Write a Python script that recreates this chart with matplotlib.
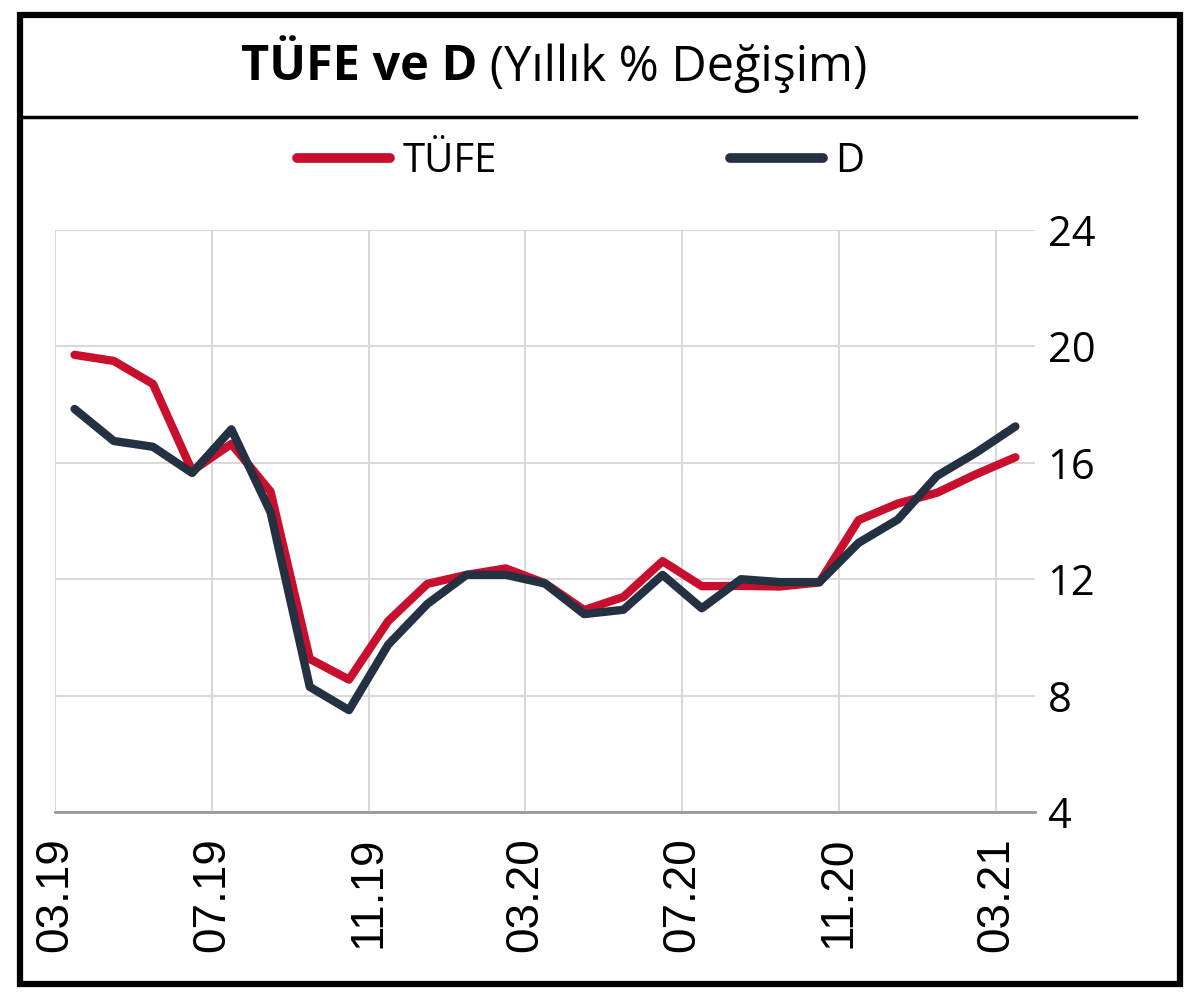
"""
TÜFE ve D - yillik % degisim (03.19 - 03.21).
"""
import matplotlib
matplotlib.use("Agg")
import matplotlib.pyplot as plt
from matplotlib.lines import Line2D
from matplotlib.patches import Rectangle

# datos mensuales 03.19 .. 03.21
meses = ["03.19", "04.19", "05.19", "06.19", "07.19", "08.19", "09.19", "10.19",
         "11.19", "12.19", "01.20", "02.20", "03.20", "04.20", "05.20", "06.20",
         "07.20", "08.20", "09.20", "10.20", "11.20", "12.20", "01.21", "02.21",
         "03.21"]
tufe = [19.71, 19.50, 18.71, 15.72, 16.65, 15.01, 9.26, 8.55, 10.56, 11.84,
        12.15, 12.37, 11.86, 10.94, 11.39, 12.62, 11.76, 11.77, 11.75, 11.89,
        14.03, 14.60, 14.97, 15.61, 16.19]
d = [17.85, 16.75, 16.55, 15.65, 17.15, 14.3, 8.3, 7.5, 9.75, 11.15,
     12.15, 12.15, 11.85, 10.8, 10.95, 12.15, 11.0, 12.0, 11.9, 11.9,
     13.25, 14.05, 15.55, 16.35, 17.25]
etiquetas = meses[::4]
yticks = [4, 8, 12, 16, 20, 24]

ROJO = "#C8102E"
AZUL = "#243142"

fig = plt.figure(figsize=(12, 10), dpi=100)
ax = fig.add_axes([0.0458, 0.188, 0.8167, 0.582])

xs = [i + 0.5 for i in range(len(meses))]
ax.plot(xs, tufe, color=ROJO, lw=6, solid_capstyle="round", solid_joinstyle="round",
        label="TÜFE", zorder=3)
ax.plot(xs, d, color=AZUL, lw=6, solid_capstyle="round", solid_joinstyle="round",
        label="D", zorder=4)

ax.set_xlim(0, 25)
ax.set_ylim(4, 24)
ax.set_xticks(range(0, 25, 4))
ax.set_xticklabels(etiquetas, rotation=90, fontsize=33, family="Liberation Sans",
                   va="top")
ax.set_yticks(yticks)
ax.set_yticklabels([str(v) for v in yticks], fontsize=30, family="Open Sans")
ax.yaxis.tick_right()
ax.tick_params(axis="both", length=0)
ax.tick_params(axis="x", pad=18)
ax.tick_params(axis="y", pad=9)
ax.grid(True, color="#d9d9d9", lw=1.5)
for s in ["top", "left", "right"]:
    ax.spines[s].set_visible(False)
ax.spines["bottom"].set_color("#999999")
ax.spines["bottom"].set_linewidth(2)

leg = fig.legend(loc="center", bbox_to_anchor=(0.484, 0.838), ncol=2, frameon=False,
                 prop={"family": "Open Sans", "size": 29}, handlelength=2.3,
                 handletextpad=0.3, columnspacing=5.8)
for h in leg.get_lines():
    h.set_linewidth(7)
    h.set_solid_capstyle("round")

# titulo en dos partes (negrita + normal)
fig.canvas.draw()
r = fig.canvas.get_renderer()
t1 = fig.text(0, 0.932, "TÜFE ve D", fontsize=35, fontweight="bold",
              family="Open Sans", va="center", ha="left")
t2 = fig.text(0, 0.932, " (Yıllık % Değişim)", fontsize=35,
              family="Open Sans", va="center", ha="left")
w1 = t1.get_window_extent(r).width / fig.bbox.width
w2 = t2.get_window_extent(r).width / fig.bbox.width
x0 = 0.462 - (w1 + w2) / 2
t1.set_x(x0)
t2.set_x(x0 + w1)

# linea bajo el titulo y marco
fig.add_artist(Line2D([0.018, 0.947], [0.883, 0.883], color="black", lw=2.5))
fig.add_artist(Rectangle((0.017, 0.016), 0.966, 0.969, fill=False,
                         edgecolor="black", lw=4.5, transform=fig.transFigure))

fig.savefig("out.png", dpi=100)
